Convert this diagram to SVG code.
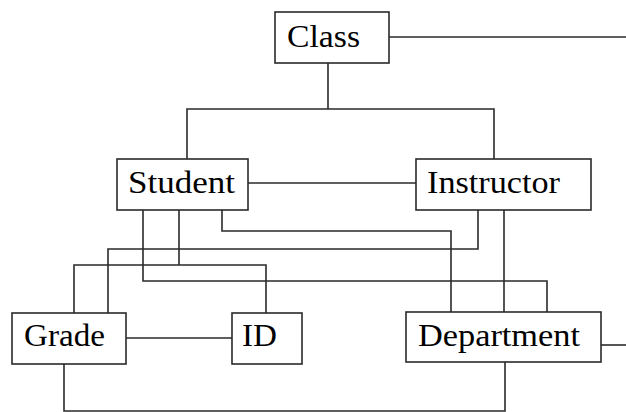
<svg xmlns="http://www.w3.org/2000/svg" width="626" height="412" viewBox="0 0 626 412">
<style>
.box{fill:#fff;stroke:#2a2a2a;stroke-width:1.6}
.lbl{font-family:"Liberation Serif","Times New Roman",serif;font-size:31px;fill:#000}
.con{fill:none;stroke:#2a2a2a;stroke-width:1.6}
</style>
<rect width="626" height="412" fill="#fff"/>
<g id="connectors" class="con">
<path d="M389,37 H626"/>
<path d="M187,159 V109 H494 V159 M328,63 V109"/>
<path d="M248,183 H416"/>
<path d="M143,210 V281 H547 V312"/>
<path d="M179,210 V265 M74,313 V265 H266 V313"/>
<path d="M222,210 V231 H451 V312"/>
<path d="M478,210 V249 H108 V313"/>
<path d="M504,210 V312"/>
<path d="M126,338 H232"/>
<path d="M64,364 V411 H505 V362"/>
<path d="M601,345 H626"/>
</g>
<g id="class"><rect class="box" x="275" y="12" width="114" height="51"/><text class="lbl" x="287" y="47" textLength="73" lengthAdjust="spacingAndGlyphs">Class</text></g>
<g id="student"><rect class="box" x="117" y="159" width="131" height="51"/><text class="lbl" x="128" y="193" textLength="107" lengthAdjust="spacingAndGlyphs">Student</text></g>
<g id="instructor"><rect class="box" x="416" y="159" width="175" height="51"/><text class="lbl" x="427" y="193" textLength="133" lengthAdjust="spacingAndGlyphs">Instructor</text></g>
<g id="grade"><rect class="box" x="12" y="313" width="114" height="51"/><text class="lbl" x="24" y="346" textLength="81" lengthAdjust="spacingAndGlyphs">Grade</text></g>
<g id="id"><rect class="box" x="232" y="313" width="70" height="51"/><text class="lbl" x="242" y="346" textLength="35" lengthAdjust="spacingAndGlyphs">ID</text></g>
<g id="department"><rect class="box" x="406" y="312" width="195" height="50"/><text class="lbl" x="418" y="346" textLength="162" lengthAdjust="spacingAndGlyphs">Department</text></g>
</svg>
